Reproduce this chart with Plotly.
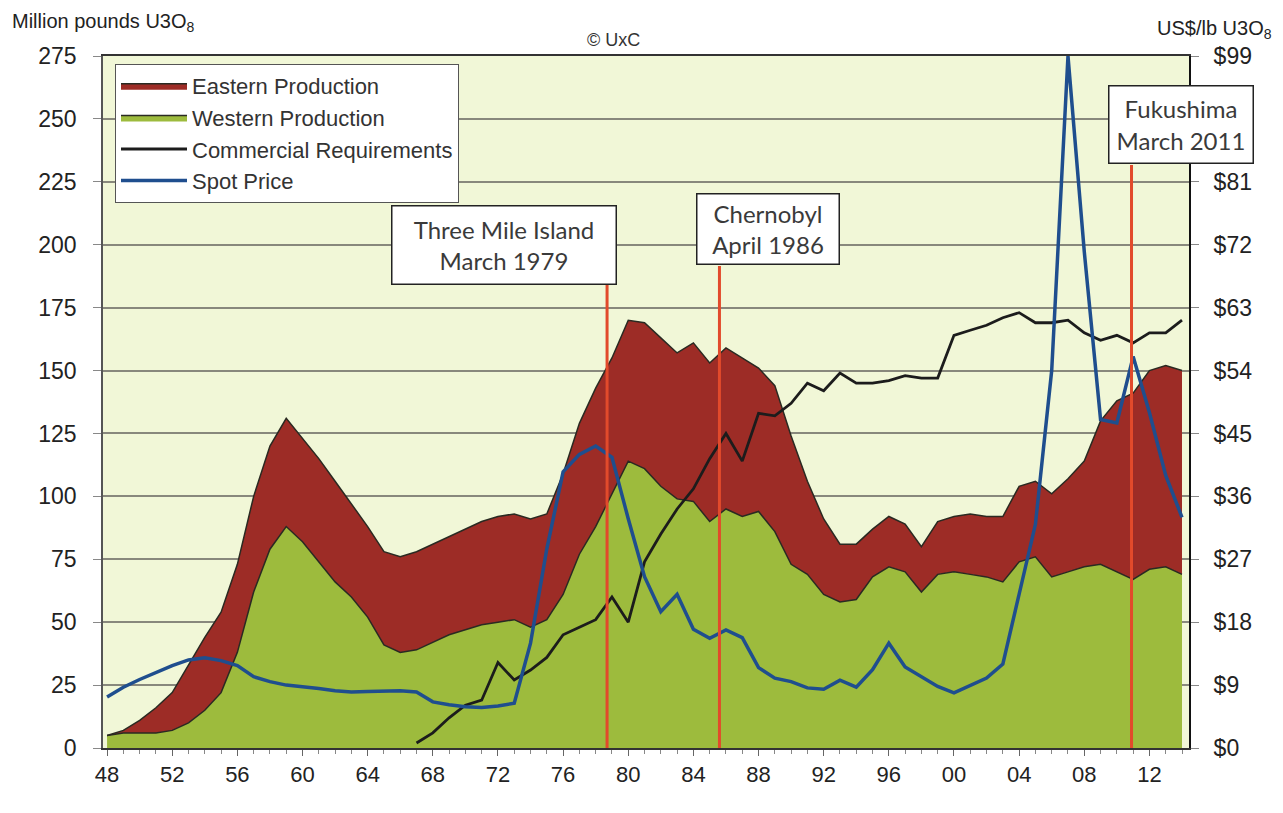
import plotly.graph_objects as go

# ---------------- data ----------------
years = list(range(1948, 2015))

western_production = [
    5, 6, 6, 6, 7, 10, 15, 22, 38, 62,          # 1948-1957
    79, 88, 82, 74, 66, 60, 52, 41, 38, 39,     # 1958-1967
    42, 45, 47, 49, 50, 51, 48, 51, 61, 77,     # 1968-1977
    88, 101, 114, 111, 104, 99, 98, 90, 95, 92, # 1978-1987
    94, 86, 73, 69, 61, 58, 59, 68, 72, 70,     # 1988-1997
    62, 69, 70, 69, 68, 66, 74, 76, 68, 70,     # 1998-2007
    72, 73, 70, 67, 71, 72, 69,                 # 2008-2014
]

eastern_production = [
    0, 1, 5, 10, 15, 23, 29, 32, 35, 38,        # 1948-1957
    41, 43, 41, 41, 40, 37, 36, 37, 38, 39,     # 1958-1967
    39, 39, 40, 41, 42, 42, 43, 42, 48, 52,     # 1968-1977
    55, 54, 56, 58, 59, 58, 63, 63, 64, 63,     # 1978-1987
    57, 58, 51, 37, 30, 23, 22, 19, 20, 19,     # 1988-1997
    18, 21, 22, 24, 24, 26, 30, 30, 33, 37,     # 1998-2007
    42, 57, 68, 74, 79, 80, 81,                 # 2008-2014
]

req_years = list(range(1967, 2015))
commercial_requirements = [
    2, 6, 12, 17, 19, 34, 27, 31, 36, 45,           # 1967-1976
    48, 51, 60, 50, 74, 85, 95, 103, 115, 125,      # 1977-1986
    114, 133, 132, 137, 145, 142, 149, 145, 145, 146,  # 1987-1996
    148, 147, 147, 164, 166, 168, 171, 173, 169, 169,  # 1997-2006
    170, 165, 162, 164, 161, 165, 165, 170,         # 2007-2014
]

spot_price = [
    7.3, 8.7, 9.8, 10.8, 11.8, 12.6, 12.9, 12.5, 11.8, 10.2,   # 1948-1957
    9.5, 9.0, 8.8, 8.5, 8.2, 8.0, 8.1, 8.2, 8.2, 8.0,          # 1958-1967
    6.6, 6.2, 5.9, 5.8, 6.0, 6.4, 15.0, 28.5, 39.5, 42.0,      # 1968-1977
    43.2, 41.6, 32.8, 24.5, 19.5, 22.0, 17.0, 15.7, 16.9, 15.8,  # 1978-1987
    11.5, 10.0, 9.5, 8.6, 8.4, 9.7, 8.7, 11.2, 15.0, 11.6,     # 1988-1997
    10.2, 8.8, 7.9, 8.9, 10.0, 12.0, 22.0, 32.0, 54.0, 99.0,   # 1998-2007
    71.0, 47.0, 46.5, 56.0, 48.0, 39.0, 33.0,                  # 2008-2014
]

tick_years = list(range(1948, 2015, 4))
tick_text = ["48", "52", "56", "60", "64", "68", "72", "76", "80",
             "84", "88", "92", "96", "00", "04", "08", "12"]

price_ticks = [0, 9, 18, 27, 36, 45, 54, 63, 72, 81, 99]
price_tick_text = ["$0", "$9", "$18", "$27", "$36", "$45", "$54",
                   "$63", "$72", "$81", "$99"]

event_years = [1978.7, 1985.6, 2010.9]
event_labels = ["Three Mile Island<br>March 1979",
                "Chernobyl<br>April 1986",
                "Fukushima<br>March 2011"]

# ---------------- figure ----------------
OFF = 8                      # page body margin the HTML adds
PAGE_W, PAGE_H = 1283, 813
W, H = PAGE_W - OFF, PAGE_H - OFF
# plot-area box, in page pixels
L, R, T, B = 103, 1189, 56, 748
PW, PH = R - L, B - T

def px(xp):
    return (xp - L) / PW

def py(yp):
    return (B - yp) / PH

fig = go.Figure()

fig.add_trace(go.Scatter(
    x=years, y=western_production, name="Western Production",
    stackgroup="prod", mode="lines",
    line=dict(color="#2a2a22", width=1.5), fillcolor="#9DBB3D",
    legendrank=2,
))
fig.add_trace(go.Scatter(
    x=years, y=eastern_production, name="Eastern Production",
    stackgroup="prod", mode="lines",
    line=dict(color="#2a2a22", width=1.5), fillcolor="#9D2C26",
    legendrank=1,
))
fig.add_trace(go.Scatter(
    x=req_years, y=commercial_requirements, name="Commercial Requirements",
    mode="lines", line=dict(color="#1c1c1c", width=2.8),
    legendrank=3,
))
fig.add_trace(go.Scatter(
    x=years, y=spot_price, name="Spot Price", yaxis="y2",
    mode="lines", line=dict(color="#1F4E8E", width=3.5),
    legendrank=4,
))

# event marker lines + boxes
box_px = [  # (x0, x1, y0, y1) pixel boxes of the callouts (page pixels)
    (390, 617, 204, 285),
    (695, 840, 193, 266),
    (1107, 1254, 85, 165),
]
shapes = []
annotations = []
for ex, lab, (bx0, bx1, by0, by1) in zip(event_years, event_labels, box_px):
    shapes.append(dict(type="line", xref="x", yref="paper",
                       x0=ex, x1=ex, y0=0, y1=py(by1),
                       line=dict(color="#E24A2B", width=3), layer="above"))
    annotations.append(dict(
        text=lab, xref="paper", yref="paper",
        x=px((bx0 + bx1) / 2), y=py((by0 + by1) / 2),
        xanchor="center", yanchor="middle", showarrow=False,
        width=bx1 - bx0 - 6, height=by1 - by0 - 6,
        bgcolor="white", bordercolor="#222", borderwidth=1.5, borderpad=1,
        font=dict(family="Lato, Open Sans, sans-serif", size=24, color="#3a3a3a"),
        align="center",
    ))

annotations += [
    dict(text="Million pounds U3O<sub>8</sub>", xref="paper", yref="paper",
         x=px(10), y=py(22), xanchor="left", yanchor="middle", showarrow=False,
         font=dict(size=20, color="#222")),
    dict(text="© UxC", xref="paper", yref="paper",
         x=px(613), y=py(40), xanchor="center", yanchor="middle", showarrow=False,
         font=dict(size=18, color="#333")),
    dict(text="US$/lb U3O<sub>8</sub>", xref="paper", yref="paper",
         x=px(1274), y=py(30), xanchor="right", yanchor="middle", showarrow=False,
         font=dict(size=20, color="#222")),
]

fig.update_layout(
    width=W, height=H,
    margin=dict(l=L - OFF, r=W - (R - OFF), t=T - OFF, b=H - (B - OFF), pad=0),
    paper_bgcolor="white", plot_bgcolor="#F1F7D7",
    font=dict(family="Liberation Sans, Arial, sans-serif", size=22, color="#222"),
    showlegend=True,
    legend=dict(x=px(115), y=py(64), xanchor="left", yanchor="top",
                bgcolor="white", bordercolor="#555", borderwidth=1,
                font=dict(size=22, color="#333"), traceorder="normal",
                itemwidth=66, tracegroupgap=0),
    xaxis=dict(range=[1947.75, 2014.43], tickmode="array",
               tickvals=tick_years, ticktext=tick_text,
               showgrid=False, zeroline=False,
               showline=True, linecolor="#333", linewidth=1.5, mirror=True,
               ticks="outside", ticklen=6, tickcolor="#666",
               minor=dict(tickmode="linear", tick0=1948, dtick=1,
                          ticks="outside", ticklen=4, tickcolor="#888"),
               tickfont=dict(size=22, color="#222")),
    yaxis=dict(range=[0, 275], dtick=25, tick0=0,
               showgrid=True, gridcolor="#88887c", gridwidth=1.5,
               zeroline=False, showline=True, linecolor="#555", linewidth=1.5,
               ticks="outside", ticklen=8, tickcolor="#888",
               ticklabelstandoff=12, tickfont=dict(size=23, color="#222")),
    yaxis2=dict(range=[0, 99], tickmode="array", tickvals=price_ticks,
                ticktext=price_tick_text,
                overlaying="y", side="right", showgrid=False, zeroline=False,
                showline=True, linecolor="#111", linewidth=2,
                ticks="outside", ticklen=8, tickcolor="#888",
                ticklabelstandoff=10, tickfont=dict(size=23, color="#222")),
    shapes=shapes,
    annotations=annotations,
)

fig.write_html("out.html")
